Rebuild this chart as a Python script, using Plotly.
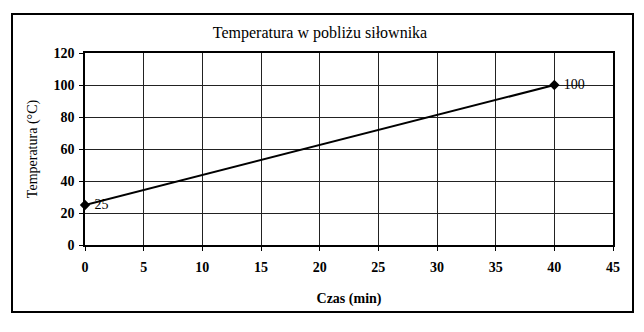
import plotly.graph_objects as go

czas = [0, 40]
temperatura = [25, 100]
etykiety = [" 25", " 100"]
x_ticks = [0, 5, 10, 15, 20, 25, 30, 35, 40, 45]
y_ticks = [0, 20, 40, 60, 80, 100, 120]

FONT = "Liberation Serif"

fig = go.Figure()
fig.add_trace(go.Scatter(
    x=czas, y=temperatura, mode="lines+markers+text",
    text=etykiety, textposition="middle right",
    textfont=dict(family=FONT, size=14, color="black"),
    line=dict(color="black", width=2),
    marker=dict(symbol="diamond", size=8, color="black"),
    showlegend=False, cliponaxis=False,
))

axis_common = dict(
    showgrid=True, gridcolor="#222", gridwidth=1,
    showline=True, linecolor="black", linewidth=1.5, mirror=True,
    ticks="outside", ticklen=4, tickcolor="black",
    zeroline=False,
)

fig.update_xaxes(range=[0, 45], tickvals=x_ticks, ticklabelstandoff=4,
                 tickfont=dict(family=FONT, size=14, color="black", weight="bold"),
                 title=dict(text="<b>Czas (min)</b>", font=dict(family=FONT, size=14, color="black"), standoff=20),
                 **axis_common)
fig.update_yaxes(range=[0, 120], tickvals=y_ticks, ticklabelstandoff=2,
                 tickfont=dict(family=FONT, size=14, color="black", weight="bold"),
                 title=dict(text="Temperatura (°C)", font=dict(family=FONT, size=14, color="black"), standoff=13),
                 **axis_common)

fig.update_layout(
    width=644, height=332,
    margin=dict(l=85, r=31, t=53, b=87),
    paper_bgcolor="white", plot_bgcolor="white",
    title=dict(text="Temperatura w pobliżu siłownika", x=320/644, xanchor="center",
               y=1 - 32/332, yanchor="middle",
               font=dict(family=FONT, size=16, color="black")),
    shapes=[dict(type="rect", xref="paper", yref="paper",
                 x0=-73/528, x1=(633-85)/528, y0=-(312-245)/192, y1=(245-14)/192,
                 line=dict(color="black", width=2), fillcolor="rgba(0,0,0,0)", layer="below")],
)

fig.write_html("out.html")
